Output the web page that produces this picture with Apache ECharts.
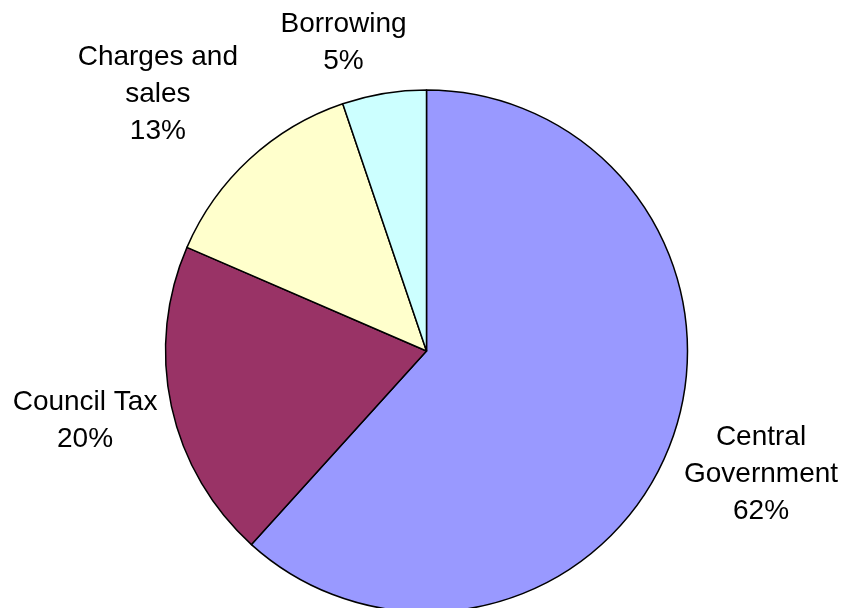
<!DOCTYPE html>
<html>
<head>
<meta charset="utf-8">
<script src="https://cdn.jsdelivr.net/npm/echarts@6/dist/echarts.min.js"></script>
<style>html,body{margin:0;padding:0;background:#fff}#c{width:841px;height:608px}</style>
</head>
<body>
<div id="c"></div>
<script>
const categories = ['Central Government', 'Council Tax', 'Charges and sales', 'Borrowing'];
const labelNames = ['Central\nGovernment', 'Council Tax', 'Charges and\nsales', 'Borrowing'];
const values = [61.7, 19.8, 13.3, 5.2];
const colors = ['#9999FF', '#993366', '#FFFFCC', '#CCFFFF'];

const CX = 426.5, CY = 351, R = 261;
// small label nudges (px) to match the reference's label placement
const labelNudge = [[6, 5], [-2, 4], [-28, -14], [-28, 0]];
const total = values.reduce((a, b) => a + b, 0);
const midDirs = [];
let acc = 0;
values.forEach(v => {
  const mid = (acc + v / 2) / total * 2 * Math.PI;
  midDirs.push([Math.sin(mid), -Math.cos(mid)]);
  acc += v;
});

const chart = echarts.init(document.getElementById('c'), null, {renderer: 'canvas'});
chart.setOption({
  animation: false,
  backgroundColor: '#fff',
  series: [{
    type: 'pie',
    center: [CX, CY],
    radius: [0, R],
    startAngle: 90,
    clockwise: true,
    avoidLabelOverlap: false,
    data: categories.map((c, i) => ({
      name: c,
      value: values[i],
      itemStyle: {color: colors[i]},
      label: {formatter: p => labelNames[i] + '\n' + Math.round(p.percent) + '%'}
    })),
    itemStyle: {borderColor: '#000', borderWidth: 1.5},
    emphasis: {disabled: true},
    label: {
      show: true,
      position: 'outside',
      color: '#000',
      fontFamily: 'Liberation Sans, Arial, sans-serif',
      fontSize: 28,
      lineHeight: 37,
      align: 'center'
    },
    labelLine: {show: false},
    labelLayout: function (p) {
      const d = midDirs[p.dataIndex];
      const n = labelNudge[p.dataIndex];
      const w = p.labelRect.width, h = p.labelRect.height;
      const g = 14;
      const x = CX + d[0] * (R + g) + d[0] * w / 2 + n[0];
      const y = CY + d[1] * (R + g) + d[1] * h / 2 + n[1];
      return {x: x, y: y, align: 'center', verticalAlign: 'middle'};
    }
  }]
});
</script>
</body>
</html>
